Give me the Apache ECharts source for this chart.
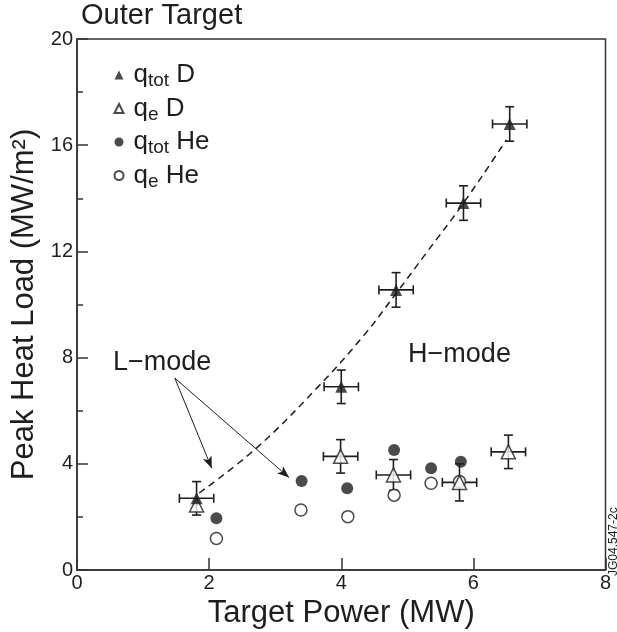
<!DOCTYPE html>
<html>
<head>
<meta charset="utf-8">
<script src="https://cdn.jsdelivr.net/npm/echarts@6/dist/echarts.min.js"></script>
<style>html,body{margin:0;padding:0;background:#fff;}#c{width:617px;height:632px;}</style>
</head>
<body>
<div id="c"></div>
<script>
// ---- data ----
var qtotD_x = [1.81, 4.00, 4.83, 5.85, 6.55];
var qtotD_y = [2.70, 6.90, 10.55, 13.82, 16.80];
var qeD_x = [1.81, 3.99, 4.79, 5.79, 6.53];
var qeD_y = [2.45, 4.28, 3.58, 3.30, 4.45];
var qtotHe_x = [2.11, 3.40, 4.09, 4.80, 5.36, 5.81];
var qtotHe_y = [1.95, 3.35, 3.08, 4.52, 3.83, 4.08];
var qeHe_x = [2.11, 3.39, 4.10, 4.80, 5.36, 5.79];
var qeHe_y = [1.19, 2.26, 2.01, 2.82, 3.27, 3.33];
// error bars: [x, y, xerr, yerr]
var errD_tot = [[1.81, 2.70, 0.26, 0.63], [4.00, 6.90, 0.26, 0.63], [4.83, 10.55, 0.26, 0.65], [5.85, 13.82, 0.26, 0.65], [6.55, 16.80, 0.26, 0.65]];
var errD_e = [[3.99, 4.28, 0.26, 0.63], [4.79, 3.58, 0.26, 0.58], [5.79, 3.30, 0.26, 0.70], [6.53, 4.45, 0.26, 0.63]];
// dashed fit curve
var fit_x = [1.85, 2.72, 3.63, 4.33, 4.84, 5.29, 5.85, 6.50];
var fit_y = [2.90, 4.60, 6.85, 8.80, 10.45, 11.95, 13.82, 16.20];
// annotations
var arrowFrom = [1.48, 7.23];
var arrowTo1 = [2.04, 3.83];
var arrowTo2 = [3.21, 3.48];
var lmodePos = [1.29, 7.82];
var hmodePos = [5.79, 8.10];
var xTicks = [0, 2, 4, 6, 8];
var yTicks = [0, 4, 8, 12, 16, 20];

function zip(a, b) { return a.map(function (v, i) { return [v, b[i]]; }); }

var INK = '#1e1e1e';
var FONT = '"Liberation Sans", Arial, Helvetica, sans-serif';

function errRender(params, api) {
  var x = api.value(0), y = api.value(1), xe = api.value(2), ye = api.value(3);
  var c = api.coord([x, y]);
  var l = api.coord([x - xe, y]), r = api.coord([x + xe, y]);
  var t = api.coord([x, y + ye]), b = api.coord([x, y - ye]);
  var cap = 4.5;
  var st = { stroke: INK, lineWidth: 1.6 };
  return {
    type: 'group',
    children: [
      { type: 'line', shape: { x1: l[0], y1: c[1], x2: r[0], y2: c[1] }, style: st },
      { type: 'line', shape: { x1: c[0], y1: t[1], x2: c[0], y2: b[1] }, style: st },
      { type: 'line', shape: { x1: l[0], y1: c[1] - cap, x2: l[0], y2: c[1] + cap }, style: st },
      { type: 'line', shape: { x1: r[0], y1: c[1] - cap, x2: r[0], y2: c[1] + cap }, style: st },
      { type: 'line', shape: { x1: c[0] - cap, y1: t[1], x2: c[0] + cap, y2: t[1] }, style: st },
      { type: 'line', shape: { x1: c[0] - cap, y1: b[1], x2: c[0] + cap, y2: b[1] }, style: st }
    ]
  };
}

var legendNames = {
  'qtot D': '{p| }{m|q}{s|tot}{m| D}',
  'qe D': '{p| }{m|q}{s|e}{m| D}',
  'qtot He': '{p| }{m|q}{s|tot}{m| He}',
  'qe He': '{p| }{m|q}{s|e}{m| He}'
};

var chart = echarts.init(document.getElementById('c'));
chart.setOption({
  backgroundColor: '#fff',
  animation: false,
  textStyle: { fontFamily: FONT },
  title: {
    text: 'Outer Target', left: 81, top: 1, padding: 0,
    textStyle: { fontFamily: FONT, fontSize: 29, fontWeight: 'normal', color: INK }
  },
  grid: { left: 77, right: 11.5, top: 39, bottom: 62, show: true, borderColor: '#333', borderWidth: 1.5,
    backgroundColor: 'transparent', containLabel: false, outerBoundsMode: 'none' },
  legend: {
    orient: 'vertical', left: 108.5, top: 57, itemGap: 5,
    itemWidth: 9, itemHeight: 9,
    data: ['qtot D', 'qe D', 'qtot He', 'qe He'],
    formatter: function (n) { return legendNames[n]; },
    textStyle: {
      color: INK, fontFamily: FONT,
      rich: {
        p: { width: 5, fontSize: 10, lineHeight: 24 },
        m: { fontSize: 26, fontFamily: FONT, color: INK, lineHeight: 24, verticalAlign: 'middle' },
        s: { fontSize: 19, fontFamily: FONT, color: INK, lineHeight: 31, verticalAlign: 'bottom' }
      }
    }
  },
  xAxis: {
    type: 'value', min: 0, max: 8, interval: 2,
    name: 'Target Power (MW)', nameLocation: 'middle', nameGap: 27,
    nameTextStyle: { fontSize: 31, color: INK, fontFamily: FONT },
    axisLine: { show: true, lineStyle: { color: '#333', width: 1.5 } },
    axisTick: { show: true, inside: true, length: 12, lineStyle: { color: '#333', width: 1.5 } },
    axisLabel: { fontSize: 20, color: INK, margin: 3, fontFamily: FONT,
      formatter: function (v) { return xTicks.indexOf(v) >= 0 ? String(v) : ''; } },
    splitLine: { show: false }
  },
  yAxis: {
    type: 'value', min: 0, max: 20, interval: 4,
    name: 'Peak Heat Load (MW/m²)', nameLocation: 'middle', nameGap: 34,
    nameTextStyle: { fontSize: 31, color: INK, fontFamily: FONT },
    axisLine: { show: true, lineStyle: { color: '#333', width: 1.5 } },
    axisTick: { show: true, inside: true, length: 11, lineStyle: { color: '#333', width: 1.5 } },
    minorTick: { show: true, splitNumber: 2, length: 6, lineStyle: { color: '#333', width: 1.5 } },
    minorSplitLine: { show: false },
    axisLabel: { fontSize: 20, color: INK, margin: 4, fontFamily: FONT,
      formatter: function (v) { return yTicks.indexOf(v) >= 0 ? String(v) : ''; } },
    splitLine: { show: false }
  },
  series: [
    {
      name: 'fit', type: 'line', smooth: 0.4, data: zip(fit_x, fit_y), symbol: 'none',
      lineStyle: { color: INK, width: 1.5, type: [7, 5] }, z: 2, silent: true,
      markLine: {
        silent: true, symbol: ['none', 'arrow'], symbolSize: [7, 12],
        lineStyle: { color: INK, width: 1, type: 'solid' }, label: { show: false },
        data: [
          [{ coord: arrowFrom }, { coord: arrowTo1 }],
          [{ coord: arrowFrom }, { coord: arrowTo2 }]
        ]
      },
      markPoint: {
        silent: true, symbol: 'circle', symbolSize: 0,
        label: { show: true, position: 'inside', fontSize: 27, color: INK, fontFamily: FONT },
        data: [
          { coord: lmodePos, label: { formatter: 'L\u2212mode' } },
          { coord: hmodePos, label: { formatter: 'H\u2212mode' } }
        ]
      }
    },
    { name: 'errTot', type: 'custom', renderItem: errRender, data: errD_tot, z: 3, silent: true },
    { name: 'errE', type: 'custom', renderItem: errRender, data: errD_e, z: 3, silent: true },
    { name: 'qe He', type: 'scatter', data: zip(qeHe_x, qeHe_y), symbol: 'circle', symbolSize: 12,
      itemStyle: { color: '#fff', borderColor: INK, borderWidth: 1.5 }, z: 4 },
    { name: 'qtot He', type: 'scatter', data: zip(qtotHe_x, qtotHe_y), symbol: 'circle', symbolSize: 12,
      itemStyle: { color: INK }, z: 5 },
    { name: 'qe D', type: 'scatter', data: zip(qeD_x, qeD_y), symbol: 'triangle', symbolSize: 14,
      itemStyle: { color: '#fff', borderColor: INK, borderWidth: 1.5 }, z: 6 },
    { name: 'qtot D', type: 'scatter', data: zip(qtotD_x, qtotD_y), symbol: 'triangle', symbolSize: 12,
      itemStyle: { color: INK }, z: 7 }
  ],
  graphic: [
    { type: 'text', x: 608, y: 576, rotation: Math.PI / 2,
      style: { text: 'JG04.547-2c', fontSize: 12, fontFamily: FONT, fill: INK, textAlign: 'left', textVerticalAlign: 'top' } }
  ]
});
</script>
</body>
</html>
